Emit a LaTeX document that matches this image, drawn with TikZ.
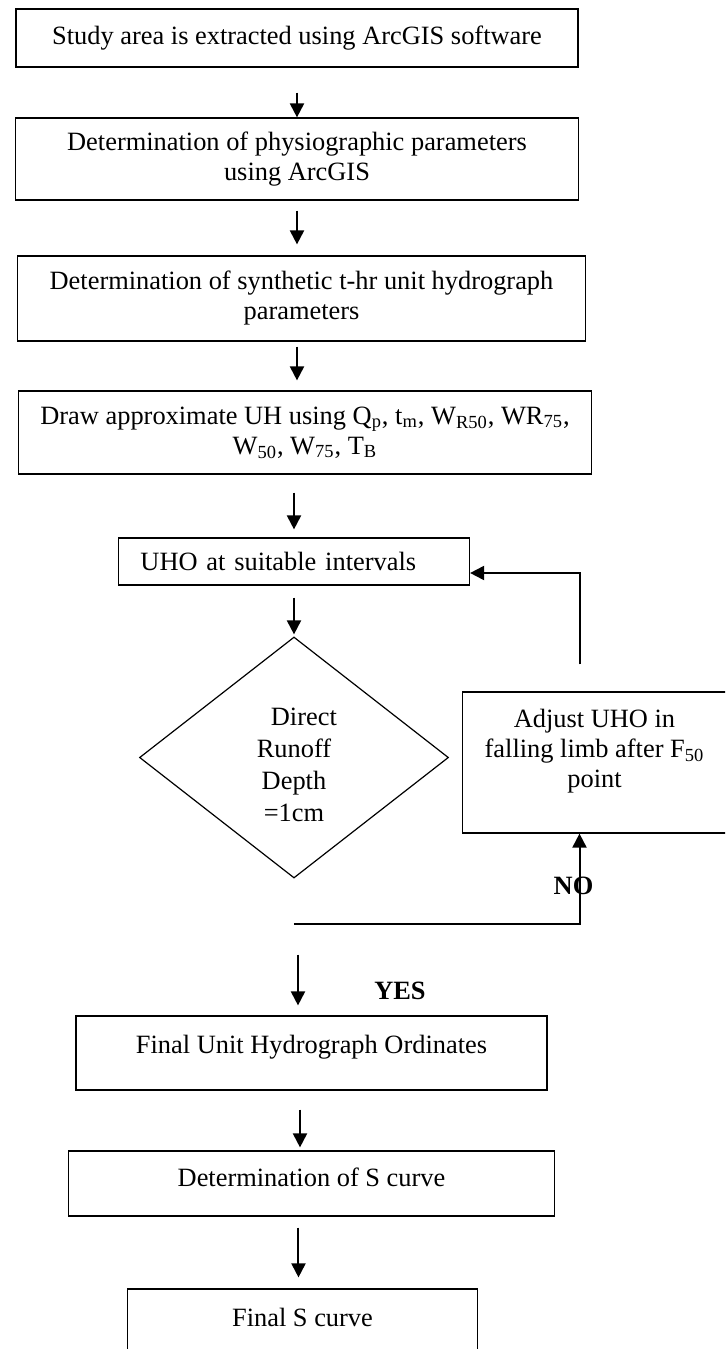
\documentclass[tikz,border=0pt]{standalone}
\usepackage{xcolor}
\usepackage{fontspec}
\setmainfont{Liberation Serif}
\usepackage{tikz}
\usetikzlibrary{shapes.geometric,arrows.meta}

\begin{document}
\begin{tikzpicture}[node distance=60pt,
    stage/.style={draw, rectangle, line width=0.6pt, align=center, font=\fontsize{13.2}{15}\selectfont},
    decision/.style={draw, diamond, line width=0.6pt, inner sep=0pt, align=center, font=\fontsize{13.2}{16}\selectfont},
    flow/.style={draw, line width=1pt, -{Triangle[length=7pt, width=7pt]}},
    answer/.style={font=\fontsize{13.2}{15}\selectfont\bfseries}]
    \useasboundingbox (-148.5pt,19pt) rectangle (214pt,-655.5pt);
    \clip (-148.5pt,19pt) rectangle (214pt,-655.5pt);
    % main column
    \node[stage, minimum width=281pt, minimum height=29pt] (study) {Study area is extracted using ArcGIS software};
    \node[stage, minimum width=281.5pt, minimum height=41pt, node distance=60.5pt, below of=study] (physio) {Determination of physiographic parameters\\using ArcGIS};
    \node[stage, minimum width=284pt, minimum height=42.5pt, node distance=69.75pt, below of=physio, xshift=2.25pt] (synth) {Determination of synthetic t-hr unit hydrograph\\parameters};
    \node[stage, minimum width=286.5pt, minimum height=41.5pt, node distance=67pt, below of=synth, xshift=1.75pt] (approx) {Draw approximate UH using Q\textsubscript{p}, t\textsubscript{m}, W\textsubscript{R50}, WR\textsubscript{75},\\W\textsubscript{50}, W\textsubscript{75}, T\textsubscript{B}};
    \node[stage, minimum width=175.5pt, minimum height=23.5pt, text width=153.5pt, inner xsep=11pt, align=left, node distance=64.5pt, below of=approx, xshift=-5.5pt] (uho) {UHO at suitable intervals};
    \node[decision, minimum width=154.5pt, minimum height=120.5pt, text height=63.5pt, text depth=0pt, node distance=98pt, below of=uho] (check) {\hspace*{0.75em}Direct\\Runoff\\Depth\\=1cm};
    \node[stage, minimum width=132pt, minimum height=70.5pt, text depth=14.5pt, node distance=150.25pt, right of=check, yshift=-2.5pt] (adjust) {Adjust UHO in\\falling limb after F\textsubscript{50}\\point};
    \node[stage, minimum width=235.5pt, minimum height=37pt, text height=9pt, text depth=9pt, node distance=147.75pt, below of=check, xshift=8.75pt] (final) {Final Unit Hydrograph Ordinates};
    \node[stage, minimum width=243pt, minimum height=32.5pt, text height=9pt, text depth=6pt, node distance=65.25pt, below of=final] (scurve) {Determination of S curve};
    \node[stage, minimum width=175pt, minimum height=37pt, text height=9pt, text depth=9pt, node distance=71.25pt, below of=scurve, xshift=-4.5pt] (finals) {Final S curve};

    % arrows
    \draw[flow, shorten <=12.5pt] (study.south) -- (study.south |- physio.north);
    \draw[flow, shorten <=5pt, shorten >=5.5pt] (physio.south) -- (physio.south |- synth.north);
    \draw[flow, shorten <=2.5pt, shorten >=5pt] ([xshift=-2.25pt]synth.south) -- ([xshift=-2.25pt]synth.south |- approx.north);
    \draw[flow, shorten <=9pt, shorten >=4pt] (uho.north |- approx.south) -- (uho.north);
    \draw[flow, shorten <=6pt, shorten >=1pt] (uho) -- (check);
    % loop back
    \draw[flow, shorten <=13.5pt] ([xshift=-7.5pt]adjust.north) |- ([yshift=-5.75pt]uho.east);
    \draw[flow] ([yshift=-22.5pt]check.south) -| ([xshift=-7.5pt]adjust.south) node[answer, pos=0.71, xshift=-3pt] {NO};
    \draw[flow, shorten <=38pt, shorten >=5pt] ([xshift=2pt]check.south) -- ([xshift=2pt]check.south |- final.north) node[answer, pos=0.82, xshift=51pt] {YES};
    \draw[flow, shorten <=9.5pt, shorten >=1.5pt] ([xshift=-5.75pt]final.south) -- ([xshift=-5.75pt]final.south |- scurve.north);
    \draw[flow, shorten <=5.5pt, shorten >=5.5pt] ([xshift=-6.5pt]scurve.south) -- ([xshift=-6.5pt]scurve.south |- finals.north);
\end{tikzpicture}
\end{document}
